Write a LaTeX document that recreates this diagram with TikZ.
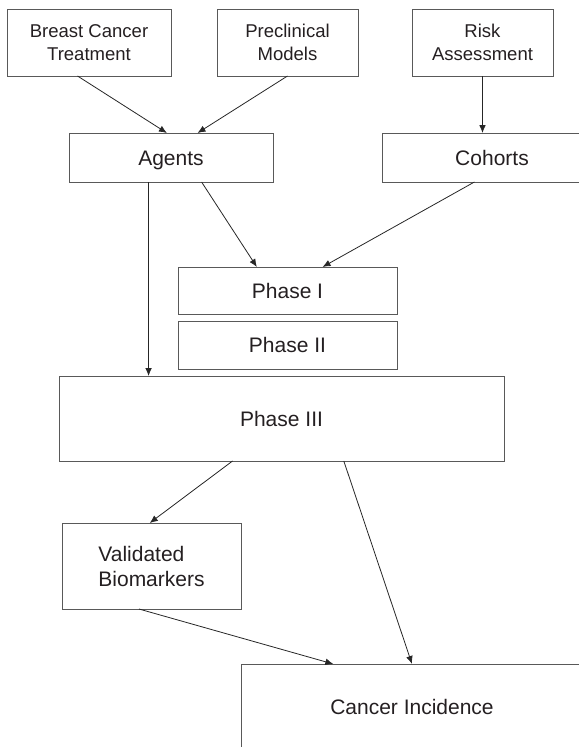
\documentclass[tikz,border=0pt]{standalone}
\usepackage{fontspec}
\setmainfont{Liberation Sans}
\usetikzlibrary{arrows.meta,calc}

\definecolor{boxline}{rgb}{0.35,0.35,0.35}
\definecolor{inkline}{rgb}{0.15,0.15,0.15}
\definecolor{inktext}{rgb}{0.14,0.12,0.13}

\tikzset{
  box/.style={draw=boxline, line width=0.75pt, rectangle, inner sep=0pt, outer sep=0pt,
    text=inktext, align=center, font=\fontsize{15.75}{18.75}\selectfont},
  oneline/.style={box, text height=13pt, text depth=1.7pt},
  topbox/.style={box, minimum width=105.75pt, minimum height=50.25pt,
    font=\fontsize{13.9}{17.25}\selectfont},
  flow/.style={draw=inkline, line width=0.6pt, -{Latex[length=6pt,width=5pt]}},
}

\begin{document}
\begin{tikzpicture}[x=0.75pt,y=0.75pt,yscale=-1,xscale=1]
\useasboundingbox (0,0) rectangle (579,747);
\clip (0,0) rectangle (579,747);

% Top row
\node [topbox, minimum width=123pt] (treat) at (89,42.5) {Breast Cancer\\Treatment};
\node [topbox] (preclin) at (287.5,42.5) {Preclinical\\Models};
\node [topbox] (risk) at (482.5,42.5) {Risk\\Assessment};

% Second row
\node [oneline, minimum width=153pt, minimum height=36.75pt] (agents) at (171,157.5) {Agents};
\node [oneline, minimum width=165pt, minimum height=36.75pt] (cohorts) at (492,157.5) {Cohorts};

% Trial phases
\node [oneline, minimum width=164.25pt, minimum height=35.25pt] (phone) at (287.5,290.5) {Phase I};
\node [oneline, minimum width=164.25pt, minimum height=36pt] (phtwo) at (287.5,345) {Phase II};
\node [oneline, minimum width=333.75pt, minimum height=63.75pt] (phthree) at (281.5,418.5) {Phase III};

% Outcomes
\node [box, align=left, minimum width=134.25pt, minimum height=64.5pt] (biomark) at (151.5,566) {Validated\\Biomarkers};
\node [oneline, minimum width=256.5pt, minimum height=64.5pt] (incid) at (412,707) {Cancer Incidence};

%Straight Lines
\draw [flow] ($(treat.south west)!0.43!(treat.south east)$) -- ($(agents.north west)!0.48!(agents.north east)$);
\draw [flow] (preclin.south) -- ($(agents.north west)!0.63!(agents.north east)$);
\draw [flow] (risk.south) -- (risk.south |- cohorts.north);
\draw [flow] ($(agents.south west)!0.39!(agents.south east)$) coordinate (adown) -- (adown |- phthree.north);
\draw [flow] ($(agents.south west)!0.65!(agents.south east)$) -- ($(phone.north west)!0.36!(phone.north east)$);
\draw [flow] ($(cohorts.south west)!0.42!(cohorts.south east)$) -- ($(phone.north west)!0.66!(phone.north east)$);
\draw [flow] ($(phthree.south west)!0.39!(phthree.south east)$) -- ($(biomark.north west)!0.49!(biomark.north east)$);
\draw [flow] ($(phthree.south west)!0.64!(phthree.south east)$) -- (incid.north);
\draw [flow] ($(biomark.south west)!0.43!(biomark.south east)$) -- ($(incid.north west)!0.27!(incid.north east)$);

\end{tikzpicture}
\end{document}
